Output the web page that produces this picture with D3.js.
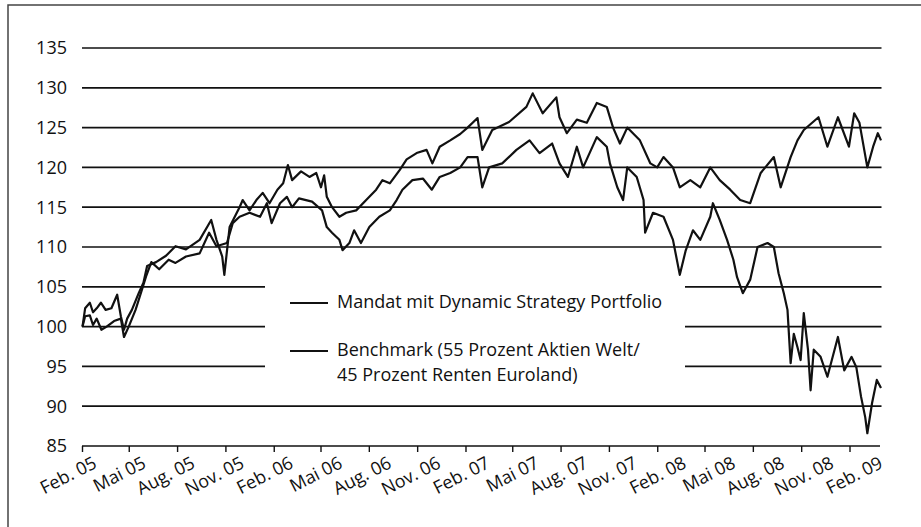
<!DOCTYPE html>
<html>
<head>
<meta charset="utf-8">
<script src="https://cdn.jsdelivr.net/npm/d3@7"></script>
<style>
body { margin: 0; background: #fff; }
text { font-family: "Open Sans", sans-serif; fill: #111; }
</style>
</head>
<body>
<svg id="chart" width="921" height="527"></svg>
<script>
// Werte (Index, Start = 100)
var mandatDates = ["2005-02-01","2005-02-06","2005-02-15","2005-02-21","2005-02-28","2005-03-08","2005-03-17","2005-03-28","2005-04-08","2005-04-15","2005-04-21","2005-04-27","2005-05-06","2005-05-19","2005-05-28","2005-06-04","2005-06-21","2005-07-10","2005-07-28","2005-08-17","2005-09-12","2005-10-04","2005-10-14","2005-10-25","2005-10-29","2005-11-08","2005-11-27","2005-12-03","2005-12-16","2005-12-29","2006-01-10","2006-01-23","2006-02-07","2006-02-18","2006-02-27","2006-03-07","2006-03-24","2006-04-09","2006-04-22","2006-05-01","2006-05-07","2006-05-12","2006-05-22","2006-06-05","2006-06-18","2006-07-07","2006-07-26","2006-08-14","2006-08-26","2006-09-09","2006-09-28","2006-10-11","2006-10-30","2006-11-18","2006-11-29","2006-12-13","2007-01-02","2007-01-21","2007-02-04","2007-02-23","2007-03-04","2007-03-23","2007-04-24","2007-05-27","2007-06-08","2007-06-27","2007-07-23","2007-07-29","2007-08-12","2007-08-31","2007-09-19","2007-10-08","2007-10-27","2007-11-08","2007-11-21","2007-12-05","2007-12-29","2008-01-18","2008-01-31","2008-02-12","2008-03-01","2008-03-14","2008-04-03","2008-04-22","2008-05-11","2008-05-29","2008-06-18","2008-07-07","2008-07-26","2008-08-15","2008-09-09","2008-09-22","2008-10-11","2008-10-24","2008-11-05","2008-12-03","2008-12-20","2009-01-09","2009-01-30","2009-02-09","2009-02-19","2009-03-06","2009-03-17","2009-03-26","2009-04-01"];
var mandatValues = [100,102.3,103,101.8,102.3,103,102.1,102.3,104,101.3,99.6,101,102.1,104.2,105.5,107.6,108.1,108.9,110.1,109.7,110.9,113.4,110.9,108.8,106.5,112.5,115,115.9,114.6,115.9,116.8,115.5,117.2,118,120.3,118.4,119.5,118.8,119.3,117.5,119,116.3,115,113.8,114.3,114.6,115.9,117.2,118.4,118,119.7,121,121.8,122.2,120.5,122.6,123.4,124.2,125,126.2,122.2,124.7,125.7,127.6,129.3,126.8,128.8,126.3,124.3,126,125.6,128.1,127.6,125,123,125,123.4,120.5,120,121.3,120,117.5,118.4,117.5,120,118.4,117.2,115.9,115.5,119.3,121.3,117.5,121.3,123.4,124.7,126.3,122.6,126.3,122.6,126.8,125.6,120,122.6,124.3,123.4];

var benchDates = ["2005-02-01","2005-02-06","2005-02-15","2005-02-21","2005-02-28","2005-03-09","2005-03-19","2005-04-02","2005-04-15","2005-04-21","2005-04-30","2005-05-13","2005-05-25","2005-06-02","2005-06-12","2005-06-27","2005-07-15","2005-07-28","2005-08-17","2005-09-12","2005-09-30","2005-10-14","2005-11-03","2005-11-14","2005-11-27","2005-12-16","2006-01-05","2006-01-18","2006-01-27","2006-02-12","2006-02-25","2006-03-07","2006-03-20","2006-04-14","2006-05-03","2006-05-12","2006-05-22","2006-06-05","2006-06-11","2006-06-24","2006-07-03","2006-07-16","2006-08-01","2006-08-20","2006-09-09","2006-09-22","2006-10-03","2006-10-22","2006-11-11","2006-11-28","2006-12-13","2007-01-02","2007-01-21","2007-02-04","2007-02-23","2007-03-04","2007-03-17","2007-04-11","2007-05-08","2007-06-02","2007-06-21","2007-07-15","2007-07-29","2007-08-14","2007-08-31","2007-09-12","2007-10-08","2007-10-27","2007-11-02","2007-11-16","2007-11-27","2007-12-05","2007-12-23","2008-01-05","2008-01-08","2008-01-23","2008-02-12","2008-03-01","2008-03-14","2008-03-25","2008-04-08","2008-04-22","2008-05-11","2008-05-16","2008-05-29","2008-06-12","2008-06-24","2008-07-01","2008-07-12","2008-07-26","2008-08-09","2008-08-28","2008-09-09","2008-09-18","2008-09-28","2008-10-05","2008-10-11","2008-10-17","2008-10-24","2008-10-30","2008-11-05","2008-11-13","2008-11-18","2008-11-24","2008-12-07","2008-12-20","2009-01-09","2009-01-21","2009-02-04","2009-02-13","2009-02-22","2009-03-02","2009-03-06","2009-03-15","2009-03-24","2009-04-01"];
var benchValues = [100,101.3,101.4,100.2,101,99.6,100,100.7,101,98.7,100,102.1,104.6,106.3,108.1,107.2,108.4,108,108.8,109.2,111.8,110.1,110.5,113,113.8,114.3,113.8,115.5,113,115.5,116.3,115,116.1,115.7,114.6,112.5,111.8,110.9,109.6,110.5,112.1,110.5,112.5,113.8,114.6,115.9,117.2,118.4,118.6,117.2,118.8,119.3,120,121.3,121.3,117.5,120,120.5,122.2,123.4,121.8,123,120.5,118.8,122.6,120,123.8,122.6,120.5,117.5,115.9,120,118.8,115.9,111.8,114.3,113.8,110.9,106.5,109.5,112.1,110.9,113.8,115.5,113.4,110.9,108.4,106.2,104.2,105.9,110,110.5,110,106.7,104.2,102.1,95.4,99.1,97.4,95.8,101.7,97.1,92,97.1,96.2,93.7,98.7,94.5,96.2,94.9,91.2,88.6,86.6,90.4,93.3,92.3];

var yTicks = [85, 90, 95, 100, 105, 110, 115, 120, 125, 130, 135];
var tickDates = ["2005-02-01","2005-05-01","2005-08-01","2005-11-01","2006-02-01","2006-05-01","2006-08-01","2006-11-01","2007-02-01","2007-05-01","2007-08-01","2007-11-01","2008-02-01","2008-05-01","2008-08-01","2008-11-01","2009-02-01"];
var tickLabels = ["Feb. 05","Mai 05","Aug. 05","Nov. 05","Feb. 06","Mai 06","Aug. 06","Nov. 06","Feb. 07","Mai 07","Aug. 07","Nov. 07","Feb. 08","Mai 08","Aug. 08","Nov. 08","Feb. 09"];
var legendLabels = ["Mandat mit Dynamic Strategy Portfolio", "Benchmark (55 Prozent Aktien Welt/", "45 Prozent Renten Euroland)"];

var parse = d3.timeParse("%Y-%m-%d");
var svg = d3.select("#chart");

var x = d3.scaleTime()
    .domain([parse("2005-02-01"), parse("2009-04-01")])
    .range([82.5, 881]);
var y = d3.scaleLinear().domain([85, 135]).range([446, 48]);
// Beschriftungen stehen etwas weiter auseinander als die Striche
var xLab = d3.scalePoint().domain(tickLabels).range([98, 884]);

// Rahmen links und oben
svg.append("path")
    .attr("d", "M8,527V5H921")
    .attr("fill", "none")
    .attr("stroke", "#444")
    .attr("stroke-width", 1.5);

// Gitterlinien
svg.selectAll("line.grid").data(yTicks.slice(1)).enter().append("line")
    .attr("class", "grid")
    .attr("x1", 82).attr("x2", 881.5)
    .attr("y1", function(d){ return y(d); })
    .attr("y2", function(d){ return y(d); })
    .attr("stroke", "#111")
    .attr("stroke-width", 1.7);

// y Beschriftung
svg.selectAll("text.ylab").data(yTicks).enter().append("text")
    .attr("class", "ylab")
    .attr("x", 67)
    .attr("y", function(d){ return y(d); })
    .attr("dy", "0.36em")
    .attr("text-anchor", "end")
    .attr("font-size", 18)
    .text(function(d){ return d; });

// x Achse
svg.append("line")
    .attr("x1", 82).attr("x2", 880)
    .attr("y1", y(85)).attr("y2", y(85))
    .attr("stroke", "#111").attr("stroke-width", 1.7);
svg.selectAll("line.tick").data(tickDates).enter().append("line")
    .attr("class", "tick")
    .attr("x1", function(d){ return x(parse(d)); })
    .attr("x2", function(d){ return x(parse(d)); })
    .attr("y1", y(85)).attr("y2", y(85) + 6)
    .attr("stroke", "#111").attr("stroke-width", 1.4);
svg.selectAll("text.xlab").data(tickLabels).enter().append("text")
    .attr("class", "xlab")
    .attr("transform", function(d){ return "translate(" + xLab(d) + "," + (y(85) + 21) + ") rotate(-27)"; })
    .attr("text-anchor", "end")
    .attr("font-size", 18)
    .text(function(d){ return d; });

// Legende (weisser Kasten unterbricht die Gitterlinien)
svg.append("rect")
    .attr("x", 265).attr("y", 280)
    .attr("width", 420).attr("height", 110)
    .attr("fill", "#fff");
svg.selectAll("line.leg").data([303, 351]).enter().append("line")
    .attr("class", "leg")
    .attr("x1", 290).attr("x2", 328)
    .attr("y1", function(d){ return d; })
    .attr("y2", function(d){ return d; })
    .attr("stroke", "#111").attr("stroke-width", 2.2);
svg.selectAll("text.leg").data(legendLabels).enter().append("text")
    .attr("class", "leg")
    .attr("x", 337)
    .attr("y", function(d, i){ return [302, 350, 375][i]; })
    .attr("dy", "0.36em")
    .attr("font-size", 18)
    .text(function(d){ return d; });

// Kurven
var line = d3.line()
    .x(function(d){ return x(d.date); })
    .y(function(d){ return y(d.value); });

function toPoints(dates, values) {
    return dates.map(function(d, i){ return { date: parse(d), value: values[i] }; });
}

[toPoints(benchDates, benchValues), toPoints(mandatDates, mandatValues)].forEach(function(pts){
    svg.append("path")
        .datum(pts)
        .attr("d", line)
        .attr("fill", "none")
        .attr("stroke", "#111")
        .attr("stroke-width", 2.2)
        .attr("stroke-linejoin", "round");
});
</script>
</body>
</html>
